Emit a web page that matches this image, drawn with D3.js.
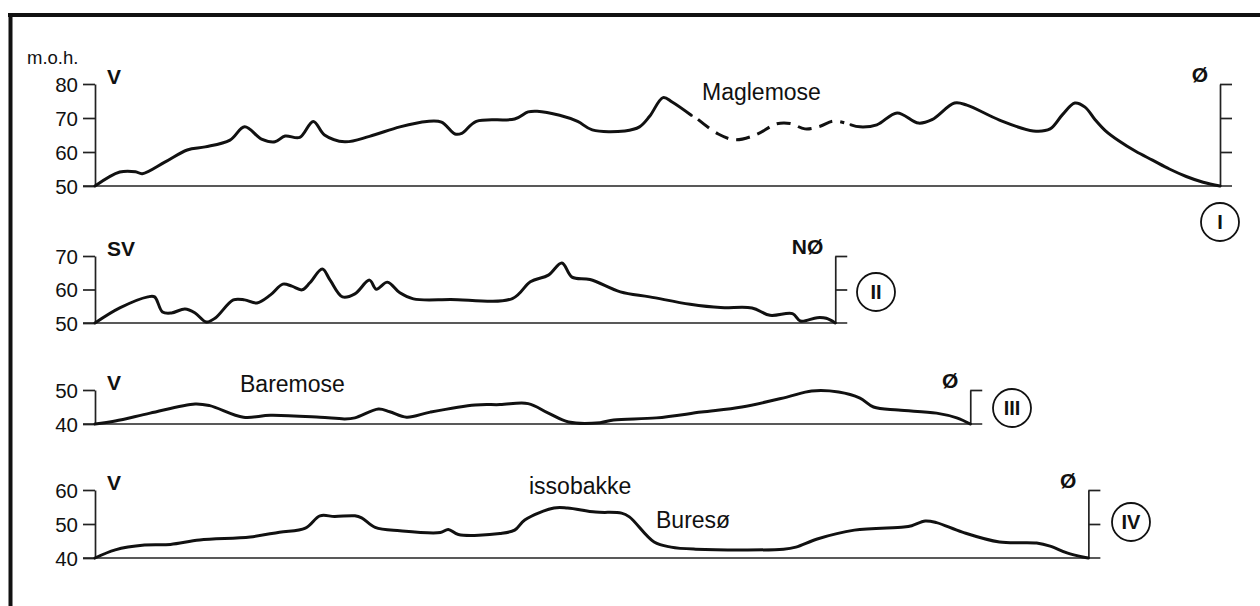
<!DOCTYPE html>
<html><head><meta charset="utf-8">
<script src="https://cdn.jsdelivr.net/npm/d3@7"></script>
<style>
body{margin:0;background:#fff}
svg{display:block}
text{font-family:"Liberation Sans",Arial,Helvetica,sans-serif;fill:#111}
</style>
</head><body>
<svg id="c" width="1260" height="606"></svg>
<script>
// ---- DATA (distance in km along profile, elevation in m o.h.) ----
// Profile I (V -> Ø), solid / dashed (Maglemose) / solid
const p1aDist = [0,0.22,0.36,0.42,0.62,0.82,0.98,1.20,1.33,1.48,1.60,1.69,1.82,1.94,2.04,2.22,2.44,2.71,2.95,3.08,3.20,3.26,3.39,3.73,3.85,3.93,4.13,4.29,4.42,4.71,4.84,4.93,5.05,5.13,5.30];
const p1aElev = [50,54.1,54.2,53.6,57,60.6,61.5,63.5,67.4,63.8,63,64.7,64.3,69,65,63,64.6,67.4,69,68.8,65.3,65.5,69,69.7,71.8,72,70.8,69,66.5,66.2,67.4,70.5,76,74.7,70.8];
const p1bDist = [5.36,5.54,5.69,5.87,6.06,6.18,6.31,6.44,6.56,6.66];
const p1bElev = [69.6,65.3,63.6,65,68.3,68.4,66.8,67.5,69.1,68.6];
const p1cDist = [6.72,6.80,6.95,7.13,7.32,7.44,7.64,7.75,8.04,8.34,8.49,8.60,8.71,8.80,8.89,8.98,9.10,9.25,9.40,9.55,9.70,9.85,10];
const p1cElev = [68,67.4,68,71.5,68.5,69.5,74.4,73.8,69.4,66.2,66.8,71,74.4,73.2,69.5,66.3,63.3,60.2,57.6,55,52.8,51.1,50];
// Profile II (SV -> NØ)
const p2Dist = [0,0.22,0.47,0.53,0.60,0.68,0.80,0.89,0.99,1.07,1.23,1.33,1.44,1.56,1.67,1.75,1.84,1.91,2.02,2.09,2.20,2.31,2.44,2.50,2.60,2.71,2.83,3.16,3.71,3.87,4.03,4.15,4.24,4.40,4.67,4.93,5.29,5.56,5.84,6.00,6.20,6.27,6.42,6.50,6.58];
const p2Elev = [50,54.5,57.8,57.8,53.3,53,54.2,53,50.3,51.5,56.9,56.9,56,58.4,61.6,61,59.9,62,66.1,62.8,57.8,58.7,62.8,60.1,62.2,59,57.2,57,57.3,62.3,64.3,67.9,63.7,63,59.3,57.8,55.6,54.6,54.5,52.3,52.8,50.6,51.6,51.4,50];
// Profile III (V -> Ø)
const p3Dist = [0,0.18,0.49,0.89,1.02,1.32,1.56,2.00,2.22,2.31,2.52,2.62,2.77,2.98,3.38,3.60,3.85,4.03,4.21,4.49,4.61,4.99,5.39,5.75,6.15,6.37,6.61,6.80,6.92,7.14,7.48,7.66,7.78];
const p3Elev = [40,40.9,43.2,45.9,45.4,42,42.6,42,41.5,41.8,44.4,43.6,42,43.5,45.6,45.7,46,43.2,40.6,40.4,41.2,41.8,43.5,45,47.9,49.7,49.4,47.6,45,44.1,43.2,41.8,40];
// Profile IV (V -> Ø)
const p4Dist = [0,0.18,0.44,0.67,0.93,1.38,1.64,1.87,2.00,2.13,2.31,2.37,2.49,2.71,3.07,3.14,3.23,3.60,3.73,3.82,4.08,4.20,4.45,4.68,4.75,4.97,5.12,5.34,6.12,6.23,6.42,6.75,7.19,7.26,7.38,7.48,7.71,8.04,8.37,8.49,8.64,8.78,8.83];
const p4Elev = [40,42.4,43.8,44,45.3,46.2,47.6,48.8,52.4,52.2,52.4,51.8,49,48,47.5,48.4,46.9,47.2,48.2,51.2,54.7,54.7,53.5,53.2,52.1,44.7,43.2,42.6,42.6,43.2,45.6,48.2,49.1,49.5,50.9,50.4,47.6,44.7,44.4,43.5,41.5,40.3,40];
// Tick labels
const p1Ticks = [50,60,70,80];
const p2Ticks = [50,60,70];
const p3Ticks = [40,50];
const p4Ticks = [40,50,60];
const unitLabel = "m.o.h.";
const numerals = ["I","II","III","IV"];
const dirLabels = [["V","Ø"],["SV","NØ"],["V","Ø"],["V","Ø"]];
const placeNames = ["Maglemose","Baremose","issobakke","Buresø"];

// ---- DRAWING ----
const svg = d3.select("#c");
const x = d3.scaleLinear().domain([0,10]).range([95,1220]);

// frame
svg.append("line").attr("x1",8).attr("x2",1260).attr("y1",15).attr("y2",15).attr("stroke","#111").attr("stroke-width",4);
svg.append("line").attr("x1",10.5).attr("x2",10.5).attr("y1",13).attr("y2",606).attr("stroke","#111").attr("stroke-width",4);

const profiles = [
  {ticks:p1Ticks, top:84, bottom:186, segs:[[p1aDist,p1aElev,false],[p1bDist,p1bElev,true],[p1cDist,p1cElev,false]], circle:[1220,222]},
  {ticks:p2Ticks, top:256, bottom:323, segs:[[p2Dist,p2Elev,false]], circle:[876,292]},
  {ticks:p3Ticks, top:390, bottom:424, segs:[[p3Dist,p3Elev,false]], circle:[1012,408]},
  {ticks:p4Ticks, top:490, bottom:558, segs:[[p4Dist,p4Elev,false]], circle:[1131,522]}
];

const line = (y)=>d3.line().x(d=>x(d[0])).y(d=>y(d[1])).curve(d3.curveCatmullRom.alpha(0.5));

profiles.forEach((p,i)=>{
  const y = d3.scaleLinear().domain(d3.extent(p.ticks)).range([p.bottom,p.top]);
  const allDist = p.segs.flatMap(s=>s[0]);
  const end = d3.max(allDist);
  const xr = x(end);
  // baseline
  svg.append("line").attr("x1",83).attr("x2",xr+12).attr("y1",y(p.ticks[0])).attr("y2",y(p.ticks[0]))
    .attr("stroke","#222").attr("stroke-width",1.7);
  // left axis
  const gl = svg.append("g").attr("transform",`translate(${x(0)},0)`)
    .call(d3.axisLeft(y).tickValues(p.ticks).tickSize(12).tickSizeOuter(0).tickPadding(5));
  gl.attr("font-family",null).attr("font-size",null);
  gl.selectAll("path,line").attr("stroke","#222").attr("stroke-width",1.7);
  gl.selectAll("text").attr("font-size",20.5).attr("fill","#111").attr("dy","0.36em");
  // right axis
  const gr = svg.append("g").attr("transform",`translate(${xr},0)`)
    .call(d3.axisRight(y).tickValues(p.ticks.slice(1)).tickSize(12).tickSizeOuter(0).tickFormat(""));
  gr.selectAll("path,line").attr("stroke","#222").attr("stroke-width",1.7);
  // profile lines
  p.segs.forEach(s=>{
    const pts = s[0].map((d,k)=>[d,s[1][k]]);
    svg.append("path").datum(pts).attr("d",line(y)).attr("fill","none").attr("stroke","#111")
      .attr("stroke-width",3).attr("stroke-linejoin","round").attr("stroke-linecap", s[2]?"butt":"round")
      .attr("stroke-dasharray", s[2]?"14,8":null);
  });
  // direction labels
  svg.append("text").attr("x",x(0)+12).attr("y",p.top).attr("font-size",21).attr("font-weight","bold").text(dirLabels[i][0]);
  svg.append("text").attr("x",xr-12).attr("y",p.top-2).attr("text-anchor","end").attr("font-size",21).attr("font-weight","bold").text(dirLabels[i][1]);
  // circle numeral
  svg.append("circle").attr("cx",p.circle[0]).attr("cy",p.circle[1]).attr("r",19).attr("fill","none").attr("stroke","#111").attr("stroke-width",1.8);
  svg.append("text").attr("x",p.circle[0]).attr("y",p.circle[1]).attr("dy","0.36em").attr("text-anchor","middle")
    .attr("font-size",20).attr("font-weight","bold").text(numerals[i]);
});

svg.append("text").attr("x",27).attr("y",64).attr("font-size",18.5).text(unitLabel);
svg.append("text").attr("x",702).attr("y",100).attr("font-size",23).text(placeNames[0]);
svg.append("text").attr("x",240).attr("y",392).attr("font-size",23).text(placeNames[1]);
svg.append("text").attr("x",529).attr("y",494).attr("font-size",23).text(placeNames[2]);
svg.append("text").attr("x",656).attr("y",528).attr("font-size",23).text(placeNames[3]);
</script>
</body></html>
